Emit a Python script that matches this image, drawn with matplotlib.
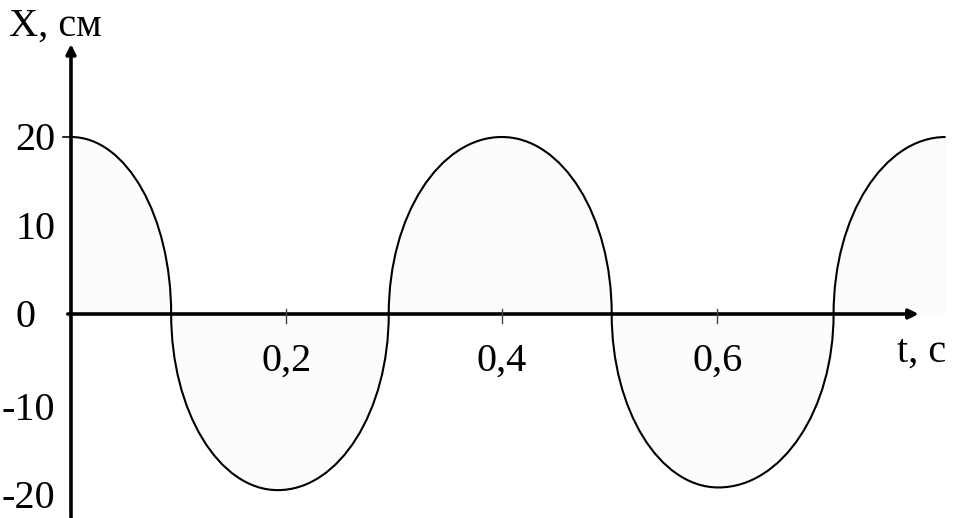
import matplotlib.pyplot as plt
from matplotlib.path import Path
from matplotlib.patches import PathPatch

plt.rcParams['font.family'] = ['Liberation Serif', 'DejaVu Serif']

# key points of the curve: extremes and zero crossings
t_key = [0.0, 0.093, 0.192, 0.295, 0.400, 0.502, 0.601, 0.708, 0.812]
x_key = [20, 0, -19.9, 0, 20, 0, -19.6, 0, 20]

y_ticks = [20, 10, 0, -10, -20]
y_labels = ['20', '10', '0', '-10', '-20']
x_ticks = [0.2, 0.4, 0.6]
x_labels = ['0,2', '0,4', '0,6']

fig = plt.figure(figsize=(9.65, 5.18), dpi=100)
ax = fig.add_axes([0, 0, 1, 1])
ax.set_xlim(-0.0659, 0.830)
ax.set_ylim(-23.05, 35.48)
ax.axis('off')

# quarter-ellipse bezier segments between key points
k = 0.5523
verts = [(t_key[0], x_key[0])]
codes = [Path.MOVETO]
for i in range(len(t_key) - 1):
    t0, a = t_key[i], x_key[i]
    t1, b = t_key[i + 1], x_key[i + 1]
    dt = t1 - t0
    if b == 0:  # extreme -> zero
        c1 = (t0 + k * dt, a)
        c2 = (t1, k * a)
    else:  # zero -> extreme
        c1 = (t0, k * b)
        c2 = (t1 - k * dt, b)
    verts += [c1, c2, (t1, b)]
    codes += [Path.CURVE4] * 3

curve = Path(verts, codes)
fill_path = Path(verts + [(t_key[-1], 0), (t_key[0], 0), (0, 0)],
                 codes + [Path.LINETO, Path.LINETO, Path.CLOSEPOLY])
ax.add_patch(PathPatch(fill_path, facecolor='#fcfcfc', edgecolor='none', zorder=1))
ax.add_patch(PathPatch(curve, facecolor='none', edgecolor='black', lw=1.5, zorder=3))

# axes with arrows
ax.annotate('', xy=(0.0, 30.5), xytext=(0.0, -23.0),
            arrowprops=dict(arrowstyle='-|>', lw=2.6, color='black',
                            mutation_scale=14, shrinkA=0, shrinkB=0), zorder=4)
ax.annotate('', xy=(0.787, 0), xytext=(-0.003, 0),
            arrowprops=dict(arrowstyle='-|>', lw=2.6, color='black',
                            mutation_scale=14, shrinkA=0, shrinkB=0), zorder=4)

# tick marks
ax.plot([-0.007, 0.0], [20, 20], color='black', lw=1.2, zorder=4)
for t in x_ticks:
    ax.plot([t, t], [0.6, -1.0], color='#444444', lw=1.0, zorder=4)

fs = 29
for v, lab in zip(y_ticks, y_labels):
    xr = -0.033 if v == 0 else -0.0145
    ax.text(xr, v - (0.5 if v < 0 else 0) - 0.4, lab, ha='right', va='center', fontsize=fs)
for t, lab in zip(x_ticks, x_labels):
    ax.text(t, -3.2, lab, ha='center', va='top', fontsize=fs)

ax.text(-0.058, 31.4, 'X, см', ha='left', va='baseline', fontsize=fs)
ax.text(0.767, -5.4, 't, с', ha='left', va='baseline', fontsize=fs)

fig.savefig('out.png', dpi=100)
